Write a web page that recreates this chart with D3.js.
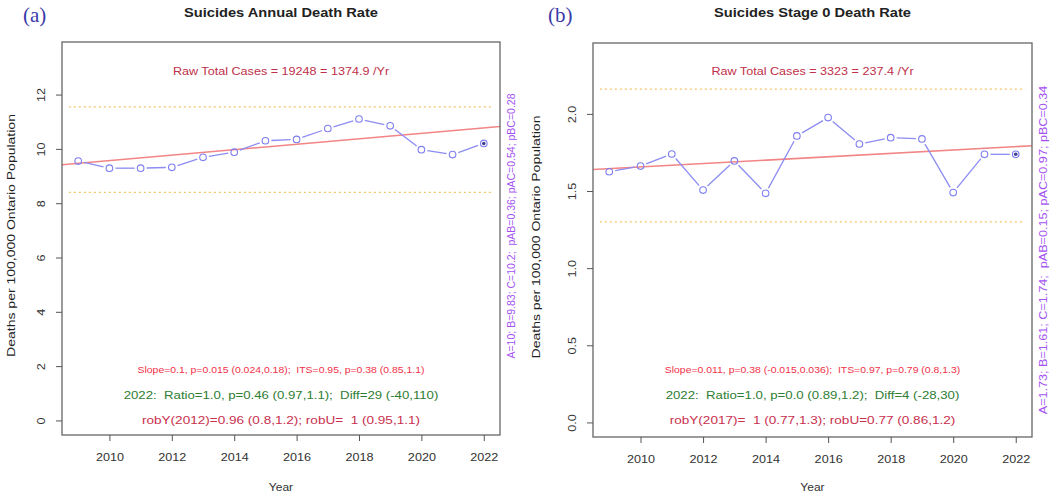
<!DOCTYPE html>
<html>
<head>
<meta charset="utf-8">
<script src="https://cdn.jsdelivr.net/npm/d3@7"></script>
<style>
  body { margin: 0; background: #fff; }
  svg { display: block; }
  text { white-space: pre; }
</style>
</head>
<body>
<div id="chart"></div>
<script>
// ---- data ----
var years = [2009, 2010, 2011, 2012, 2013, 2014, 2015, 2016, 2017, 2018, 2019, 2020, 2021, 2022];
var rateAnnual = [9.55, 9.29, 9.29, 9.32, 9.69, 9.88, 10.3, 10.35, 10.75, 11.1, 10.85, 9.97, 9.79, 10.2];
var rateStage0 = [1.625, 1.662, 1.74, 1.506, 1.695, 1.485, 1.857, 1.976, 1.805, 1.846, 1.838, 1.49, 1.738, 1.738];
var trendAnnual = [9.47, 10.77];   // fitted value at 2009 and 2022
var trendStage0 = [1.645, 1.788];
var limitsAnnual = [8.4, 11.55];
var limitsStage0 = [1.3, 2.16];
var yTicksAnnual = [0, 2, 4, 6, 8, 10, 12];
var yTicksStage0 = [0, 0.5, 1.0, 1.5, 2.0];
var xTicks = [2010, 2012, 2014, 2016, 2018, 2020, 2022];

var panels = [
  {
    tag: "(a)", title: "Suicides Annual Death Rate",
    values: rateAnnual, trend: trendAnnual, limits: limitsAnnual,
    yTicks: yTicksAnnual, yMax: 13.4, fmt: d3.format("d"),
    box: {x0: 62, x1: 500, y0: 42, y1: 435}, ox: 0,
    raw: "Raw Total Cases = 19248 = 1374.9 /Yr",
    slope: "Slope=0.1, p=0.015 (0.024,0.18);  ITS=0.95, p=0.38 (0.85,1.1)",
    ratio: "2022:  Ratio=1.0, p=0.46 (0.97,1.1);  Diff=29 (-40,110)",
    rob: "robY(2012)=0.96 (0.8,1.2); robU=  1 (0.95,1.1)",
    side: "A=10; B=9.83; C=10.2;  pAB=0.36; pAC=0.54; pBC=0.28",
    sideY: 226, sideStretch: 1.0
  },
  {
    tag: "(b)", title: "Suicides Stage 0 Death Rate",
    values: rateStage0, trend: trendStage0, limits: limitsStage0,
    yTicks: yTicksStage0, yMax: 2.365, fmt: d3.format(".1f"),
    box: {x0: 593, x1: 1032, y0: 43, y1: 437}, ox: 525,
    raw: "Raw Total Cases = 3323 = 237.4 /Yr",
    slope: "Slope=0.011, p=0.38 (-0.015,0.036);  ITS=0.97, p=0.79 (0.8,1.3)",
    ratio: "2022:  Ratio=1.0, p=0.0 (0.89,1.2);  Diff=4 (-28,30)",
    rob: "robY(2017)=  1 (0.77,1.3); robU=0.77 (0.86,1.2)",
    side: "A=1.73; B=1.61; C=1.74;  pAB=0.15; pAC=0.97; pBC=0.34",
    sideY: 250, sideStretch: 1.2
  }
];

// the reference text is set wider than Liberation Sans: stretch along the baseline
function stretch(sel, f) {
  sel.each(function() {
    var l = this.getComputedTextLength();
    d3.select(this)
      .attr("textLength", l * f)
      .attr("lengthAdjust", "spacingAndGlyphs");
  });
}

var svg = d3.select("#chart").append("svg")
    .attr("width", 1050)
    .attr("height", 495)
    .style("font-family", "'Liberation Sans', Arial, sans-serif");

var defs = svg.append("defs");

panels.forEach(function(p, k) {
  var b = p.box;
  var xr = 2022 - 2009, yr = p.yMax;
  // R style 4% axis expansion
  var xScale = d3.scaleLinear()
    .domain([2009 - 0.04 * xr, 2022 + 0.04 * xr])
    .range([b.x0, b.x1]);
  var yScale = d3.scaleLinear()
    .domain([-0.04 * yr, yr * 1.04])
    .range([b.y1, b.y0]);

  var g = svg.append("g");
  var cx = (b.x0 + b.x1) / 2;

  defs.append("clipPath").attr("id", "clip" + k)
    .append("rect")
    .attr("x", b.x0).attr("y", b.y0)
    .attr("width", b.x1 - b.x0).attr("height", b.y1 - b.y0);

  // panel tag
  g.append("text")
    .attr("x", p.ox + 23).attr("y", 22)
    .text(p.tag)
    .style("font-family", "'Liberation Serif', 'Times New Roman', serif")
    .style("font-size", "21px")
    .style("fill", "#3a3aa8");

  // title
  g.append("text")
    .attr("x", cx).attr("y", 17)
    .attr("text-anchor", "middle")
    .text(p.title)
    .style("font-size", "12px")
    .style("font-weight", "bold")
    .style("fill", "#222")
    .call(stretch, 1.22);

  var inner = g.append("g").attr("clip-path", "url(#clip" + k + ")");

  // control limits
  inner.selectAll(".lim")
    .data(p.limits)
   .enter()
    .append("line")
    .attr("x1", xScale(2008.7)).attr("x2", xScale(2022.3))
    .attr("y1", function(d) { return yScale(d); })
    .attr("y2", function(d) { return yScale(d); })
    .style("stroke", "#f2c66a")
    .style("stroke-width", 1.2)
    .style("stroke-dasharray", "2,3");

  // trend line (extended across the box)
  var slope = (p.trend[1] - p.trend[0]) / 13;
  var x0v = xScale.domain()[0], x1v = xScale.domain()[1];
  inner.append("line")
    .attr("x1", b.x0).attr("x2", b.x1)
    .attr("y1", yScale(p.trend[0] + slope * (x0v - 2009)))
    .attr("y2", yScale(p.trend[0] + slope * (x1v - 2009)))
    .style("stroke", "#f07070")
    .style("stroke-width", 1.6)
    .style("opacity", 0.85);

  // type="b" segments with gaps around points
  var pts = years.map(function(yv, i) { return [xScale(yv), yScale(p.values[i])]; });
  var gap = 6;
  var segs = [];
  for (var i = 0; i < pts.length - 1; i++) {
    var dx = pts[i + 1][0] - pts[i][0], dy = pts[i + 1][1] - pts[i][1];
    var len = Math.sqrt(dx * dx + dy * dy);
    if (len > 2 * gap) {
      segs.push([pts[i][0] + dx * gap / len, pts[i][1] + dy * gap / len,
                 pts[i + 1][0] - dx * gap / len, pts[i + 1][1] - dy * gap / len]);
    }
  }
  inner.selectAll(".seg")
    .data(segs)
   .enter()
    .append("line")
    .attr("x1", function(d) { return d[0]; })
    .attr("y1", function(d) { return d[1]; })
    .attr("x2", function(d) { return d[2]; })
    .attr("y2", function(d) { return d[3]; })
    .style("stroke", "#8c8cf2")
    .style("stroke-width", 1.3);

  inner.selectAll(".pt")
    .data(p.values)
   .enter()
    .append("circle")
    .attr("cx", function(d, i) { return xScale(years[i]); })
    .attr("cy", function(d) { return yScale(d); })
    .attr("r", 3.3)
    .style("fill", "none")
    .style("stroke", "#7d7df0")
    .style("stroke-width", 1.1);

  // last year highlighted
  inner.append("circle")
    .attr("cx", xScale(2022))
    .attr("cy", yScale(p.values[p.values.length - 1]))
    .attr("r", 1.8)
    .style("fill", "#404090");

  // box
  g.append("rect")
    .attr("x", b.x0).attr("y", b.y0)
    .attr("width", b.x1 - b.x0).attr("height", b.y1 - b.y0)
    .style("fill", "none")
    .style("stroke", "#666")
    .style("stroke-width", 1.3);

  // axes
  var xAxis = d3.axisBottom(xScale).tickValues(xTicks).tickFormat(d3.format("d")).tickSize(6).tickPadding(13);
  var gx = g.append("g")
    .attr("transform", "translate(0," + b.y1 + ")")
    .call(xAxis);
  gx.select(".domain").remove();

  var yAxis = d3.axisLeft(yScale).tickValues(p.yTicks).tickFormat(p.fmt).tickSize(6);
  var gy = g.append("g")
    .attr("transform", "translate(" + b.x0 + ",0)")
    .call(yAxis);
  gy.select(".domain").remove();
  gy.selectAll("text")
    .attr("x", 0).attr("dy", 0)
    .attr("text-anchor", "middle")
    .attr("transform", "translate(-21,0) rotate(-90)")
    .attr("y", 4);

  g.selectAll(".tick line").style("stroke", "#555");
  g.selectAll(".tick text")
    .style("font-size", "10.5px")
    .style("font-family", "'Liberation Sans', Arial, sans-serif")
    .style("fill", "#333")
    .call(stretch, 1.2);

  // axis titles
  g.append("text")
    .attr("x", cx).attr("y", 491)
    .attr("text-anchor", "middle")
    .text("Year")
    .style("font-size", "10px")
    .style("fill", "#333")
    .call(stretch, 1.2);

  g.append("text")
    .attr("transform", "translate(" + (p.ox + 15) + "," + ((b.y0 + b.y1) / 2 - 3) + ") rotate(-90)")
    .attr("text-anchor", "middle")
    .text("Deaths per 100,000 Ontario Population")
    .style("font-size", "10px")
    .style("fill", "#222")
    .call(stretch, 1.4);

  // side text
  g.append("text")
    .attr("transform", "translate(" + (b.x1 + 15) + "," + p.sideY + ") rotate(-90)")
    .attr("text-anchor", "middle")
    .text(p.side)
    .style("font-size", "10.5px")
    .style("fill", "#a452f2")
    .call(stretch, p.sideStretch);

  // annotations
  g.append("text")
    .attr("x", cx).attr("y", 75)
    .attr("text-anchor", "middle")
    .text(p.raw)
    .style("font-size", "10.5px")
    .style("fill", "#c0304a")
    .call(stretch, 1.2);

  g.append("text")
    .attr("x", cx).attr("y", 373)
    .attr("text-anchor", "middle")
    .text(p.slope)
    .style("font-size", "8.7px")
    .style("fill", "#f03048")
    .call(stretch, 1.2);

  g.append("text")
    .attr("x", cx).attr("y", 399)
    .attr("text-anchor", "middle")
    .text(p.ratio)
    .style("font-size", "11px")
    .style("fill", "#2e7d32")
    .call(stretch, 1.2);

  g.append("text")
    .attr("x", cx).attr("y", 424)
    .attr("text-anchor", "middle")
    .text(p.rob)
    .style("font-size", "11.3px")
    .style("fill", "#c8304e")
    .call(stretch, 1.2);
});
</script>
</body>
</html>
